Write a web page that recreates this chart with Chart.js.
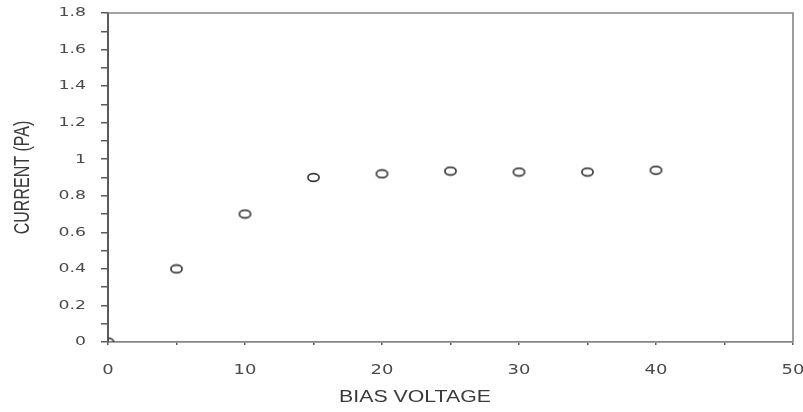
<!DOCTYPE html>
<html>
<head>
<meta charset="utf-8">
<script src="https://cdn.jsdelivr.net/npm/chart.js@4/dist/chart.umd.min.js"></script>
<style>
  html, body { margin: 0; padding: 0; background: #ffffff; }
  #wrap { width: 803px; height: 412px; }
</style>
</head>
<body>
<div id="wrap"><canvas id="c" width="803" height="412"></canvas></div>
<script>
// ---- data ----
const biasVoltage = [0, 5, 10, 15, 20, 25, 30, 35, 40];
const currentPA   = [0, 0.40, 0.70, 0.90, 0.92, 0.935, 0.93, 0.93, 0.94];
const xTickLabels = ['0', '10', '20', '30', '40', '50'];
const yTickLabels = ['0', '0.2', '0.4', '0.6', '0.8', '1', '1.2', '1.4', '1.6', '1.8'];
const xTitle = 'BIAS VOLTAGE';
const yTitle = 'CURRENT (PA)';

// ---- styles ----
const STRETCH = 1.33;
const axisColor = '#5a5a5a';
const boxColor = '#858585';
const textColor = '#4a4a4a';

// elliptical open marker
const marker = document.createElement('canvas');
marker.width = 15; marker.height = 11;
(function () {
  const m = marker.getContext('2d');
  m.strokeStyle = '#3c3c3c';
  m.lineWidth = 1.7;
  m.beginPath();
  m.ellipse(7.5, 5.5, 5.6, 3.9, 0, 0, Math.PI * 2);
  m.stroke();
})();

const points = biasVoltage.map((x, i) => ({ x: x, y: currentPA[i] }));

function stretchedText(ctx, text, x, y, align, font, color) {
  ctx.save();
  ctx.font = font;
  ctx.fillStyle = color;
  ctx.textBaseline = 'middle';
  ctx.textAlign = align;
  ctx.translate(x, y);
  ctx.scale(STRETCH, 1);
  ctx.fillText(text, 0, 0);
  ctx.restore();
}

const decorPlugin = {
  id: 'decor',
  afterDraw(chart) {
    const ctx = chart.ctx;
    const a = chart.chartArea;
    const xs = chart.scales.x, ys = chart.scales.y;
    // top and right frame lines
    ctx.save();
    ctx.strokeStyle = boxColor;
    ctx.lineWidth = 1.6;
    ctx.beginPath();
    ctx.moveTo(a.left, a.top);
    ctx.lineTo(a.right, a.top);
    ctx.lineTo(a.right, a.bottom);
    ctx.stroke();
    ctx.restore();
    // y tick labels
    yTickLabels.forEach(l => {
      const py = ys.getPixelForValue(parseFloat(l));
      stretchedText(ctx, l, 86, py, 'right', '13px "DejaVu Sans"', textColor);
    });
    // x tick labels
    xTickLabels.forEach(l => {
      const px = xs.getPixelForValue(parseFloat(l));
      stretchedText(ctx, l, px, 370, 'center', '13.5px "DejaVu Sans"', textColor);
    });
    // x title
    stretchedText(ctx, xTitle, 415, 398, 'center', '16px "Liberation Sans"', '#3a3a3a');
    // y title (rotated)
    ctx.save();
    ctx.font = '16px "Liberation Sans"';
    ctx.fillStyle = '#3a3a3a';
    ctx.textAlign = 'center';
    ctx.textBaseline = 'middle';
    ctx.translate(23, (a.top + a.bottom) / 2);
    ctx.scale(STRETCH, 1);
    ctx.rotate(-Math.PI / 2);
    ctx.fillText(yTitle, 0, 0);
    ctx.restore();
  }
};

new Chart(document.getElementById('c'), {
  type: 'scatter',
  data: {
    datasets: [{
      data: points,
      pointStyle: marker,
      pointRadius: 6,
      showLine: false
    }]
  },
  options: {
    responsive: false,
    animation: false,
    devicePixelRatio: 1,
    layout: { padding: { left: 0, top: 13, right: 10, bottom: 0 } },
    plugins: { legend: { display: false }, tooltip: { enabled: false } },
    scales: {
      x: {
        type: 'linear',
        min: 0, max: 50,
        afterFit(s) { s.height = 70; },
        ticks: { stepSize: 5, display: false },
        grid: { drawOnChartArea: false, drawTicks: true, tickLength: 3, color: axisColor, lineWidth: 1.5 },
        border: { display: true, color: boxColor, width: 1.8 }
      },
      y: {
        type: 'linear',
        min: 0, max: 1.8,
        afterFit(s) { s.width = 108; },
        ticks: { stepSize: 0.1, display: false },
        grid: { drawOnChartArea: false, drawTicks: true, tickLength: 7, color: axisColor, lineWidth: 1.5 },
        border: { display: true, color: axisColor, width: 2 }
      }
    }
  },
  plugins: [decorPlugin]
});
</script>
</body>
</html>
